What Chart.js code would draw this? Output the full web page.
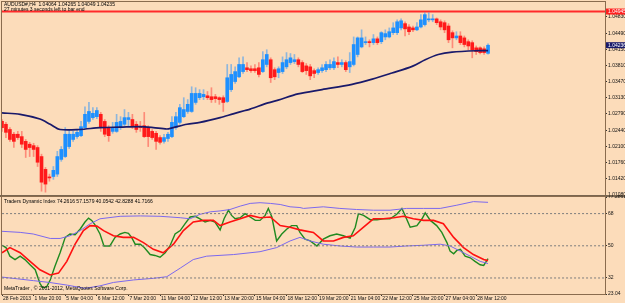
<!DOCTYPE html>
<html>
<head>
<meta charset="utf-8">
<script src="https://cdn.jsdelivr.net/npm/chart.js@4.4.0/dist/chart.umd.min.js"></script>
<style>
  html, body { margin: 0; padding: 0; background: #fcdcba; }
  #wrap { position: relative; width: 625px; height: 303px; overflow: hidden; background: #fcdcba; }
  #priceCanvas { position: absolute; left: 0; top: 0; }
  #tdiCanvas { position: absolute; left: 0; top: 195px; }
</style>
</head>
<body>
<div id="wrap">
  <canvas id="priceCanvas" width="625" height="197" style="width:625px;height:197px"></canvas>
  <canvas id="tdiCanvas" width="625" height="108" style="width:625px;height:108px"></canvas>
</div>
<script>
// AUDUSD H4 candles, one entry per bar (bar 0 = 28 Feb 2013 12:00)
const openP = [
  1.0263,1.0257,1.0246,1.0236,1.0236,1.0231,1.0221,1.0215,1.0212,1.0208,
  1.0189,1.0162,1.0146,1.0147,1.0152,1.0183,1.0189,1.0210,1.0225,1.0231,
  1.0233,1.0250,1.0263,1.0271,1.0273,1.0278,1.0263,1.0250,1.0242,1.0242,
  1.0250,1.0257,1.0267,1.0267,1.0257,1.0252,1.0254,1.0250,1.0242,1.0238,
  1.0229,1.0221,1.0227,1.0231,1.0250,1.0261,1.0273,1.0284,1.0284,1.0303,
  1.0313,1.0315,1.0317,1.0315,1.0315,1.0313,1.0313,1.0305,1.0330,1.0347,
  1.0357,1.0368,1.0376,1.0374,1.0374,1.0376,1.0368,1.0383,1.0393,1.0372,
  1.0366,1.0368,1.0378,1.0387,1.0389,1.0393,1.0387,1.0380,1.0378,1.0370,
  1.0366,1.0370,1.0372,1.0376,1.0376,1.0387,1.0383,1.0387,1.0378,1.0383,
  1.0404,1.0420,1.0429,1.0431,1.0429,1.0437,1.0431,1.0441,1.0441,1.0450,
  1.0450,1.0460,1.0469,1.0462,1.0460,1.0456,1.0462,1.0467,1.0477,1.0477,
  1.0479,1.0473,1.0471,1.0464,1.0450,1.0439,1.0443,1.0439,1.0431,1.0429,
  1.0418,1.0418,1.0416,1.04064
];
const highP = [
  1.0267,1.0261,1.0250,1.0240,1.0242,1.0242,1.0225,1.0219,1.0217,1.0212,
  1.0194,1.0166,1.0152,1.0168,1.0200,1.0210,1.0250,1.0246,1.0242,1.0244,
  1.0263,1.0294,1.0303,1.0292,1.0292,1.0282,1.0267,1.0254,1.0261,1.0278,
  1.0273,1.0288,1.0282,1.0278,1.0263,1.0263,1.0282,1.0254,1.0246,1.0242,
  1.0233,1.0236,1.0240,1.0273,1.0282,1.0299,1.0313,1.0309,1.0336,1.0334,
  1.0330,1.0330,1.0326,1.0334,1.0320,1.0315,1.0317,1.0383,1.0383,1.0378,
  1.0397,1.0399,1.0387,1.0380,1.0383,1.0387,1.0410,1.0414,1.0397,1.0376,
  1.0378,1.0399,1.0408,1.0406,1.0404,1.0397,1.0391,1.0385,1.0383,1.0374,
  1.0376,1.0383,1.0389,1.0393,1.0397,1.0399,1.0393,1.0391,1.0408,1.0441,
  1.0441,1.0456,1.0441,1.0435,1.0446,1.0441,1.0452,1.0456,1.0460,1.0471,
  1.0477,1.0479,1.0473,1.0467,1.0464,1.0471,1.0488,1.0492,1.0492,1.0488,
  1.0481,1.0477,1.0475,1.0469,1.0454,1.0452,1.0452,1.0443,1.0435,1.0433,
  1.0422,1.0420,1.0420,1.04265
];
const lowP = [
  1.0242,1.0229,1.0221,1.0208,1.0225,1.0208,1.0187,1.0189,1.0189,1.0168,
  1.0116,1.0114,1.0137,1.0141,1.0147,1.0179,1.0187,1.0206,1.0221,1.0227,
  1.0231,1.0248,1.0259,1.0267,1.0269,1.0242,1.0231,1.0221,1.0238,1.0240,
  1.0246,1.0254,1.0252,1.0248,1.0240,1.0242,1.0229,1.0210,1.0225,1.0204,
  1.0215,1.0217,1.0221,1.0229,1.0246,1.0257,1.0271,1.0280,1.0282,1.0299,
  1.0309,1.0309,1.0309,1.0303,1.0303,1.0299,1.0284,1.0303,1.0326,1.0343,
  1.0355,1.0364,1.0368,1.0366,1.0366,1.0357,1.0366,1.0378,1.0345,1.0351,
  1.0355,1.0364,1.0374,1.0383,1.0385,1.0378,1.0366,1.0362,1.0351,1.0355,
  1.0362,1.0366,1.0368,1.0372,1.0372,1.0376,1.0378,1.0368,1.0366,1.0380,
  1.0399,1.0418,1.0425,1.0420,1.0425,1.0425,1.0427,1.0435,1.0439,1.0446,
  1.0446,1.0456,1.0443,1.0446,1.0452,1.0454,1.0460,1.0464,1.0473,1.0473,
  1.0467,1.0456,1.0450,1.0429,1.0418,1.0435,1.0425,1.0420,1.0414,1.0397,
  1.0404,1.0405,1.0404,1.04049
];
const closeP = [
  1.0250,1.0240,1.0225,1.0221,1.0229,1.0215,1.0204,1.0208,1.0204,1.0177,
  1.0135,1.0131,1.0144,1.0160,1.0189,1.0204,1.0236,1.0236,1.0236,1.0240,
  1.0252,1.0278,1.0284,1.0280,1.0286,1.0250,1.0236,1.0233,1.0250,1.0261,
  1.0263,1.0271,1.0271,1.0252,1.0246,1.0250,1.0231,1.0231,1.0229,1.0221,
  1.0219,1.0229,1.0236,1.0261,1.0273,1.0292,1.0288,1.0299,1.0322,1.0322,
  1.0322,1.0320,1.0313,1.0309,1.0311,1.0309,1.0303,1.0355,1.0362,1.0368,
  1.0383,1.0383,1.0372,1.0370,1.0370,1.0362,1.0393,1.0404,1.0355,1.0357,
  1.0374,1.0387,1.0393,1.0397,1.0393,1.0383,1.0368,1.0370,1.0359,1.0364,
  1.0372,1.0376,1.0383,1.0383,1.0389,1.0383,1.0387,1.0372,1.0389,1.0425,
  1.0439,1.0439,1.0431,1.0429,1.0437,1.0429,1.0450,1.0448,1.0452,1.0460,
  1.0473,1.0475,1.0458,1.0452,1.0456,1.0462,1.0477,1.0488,1.0479,1.0479,
  1.0471,1.0462,1.0456,1.0435,1.0439,1.0443,1.0429,1.0425,1.0422,1.0414,
  1.0410,1.0408,1.0408,1.04235
];

// moving average, read at bar positions
const maBar = [0,4.6,9.6,12.2,14.7,19.7,24.8,29.9,34.9,38.3,41.7,43.3,46.8,50.1,55.2,58.5,61.5,62.8,67.3,69.9,74.9,81,88.6,93.7,98.7,103.8,107.1,110.4,113.9,120.5,123];
const maVal = [1.0281,1.0278,1.0268,1.0257,1.0246,1.0246,1.0250,1.0251,1.0252,1.0250,1.0247,1.0250,1.0257,1.0261,1.0271,1.0279,1.0286,1.0289,1.0302,1.0308,1.0321,1.0330,1.0341,1.0352,1.0365,1.0379,1.0393,1.0404,1.0409,1.0412,1.0412];

const alertLevel = 1.04945;
const bidLevel = 1.04236;
const priceTicks = [1.04830,1.04490,1.04150,1.03810,1.03470,1.03130,1.02790,1.02440,1.02100,1.01760,1.01420,1.01080];
const priceMin = 1.01080, priceMax = 1.05146;

const headerLines = ['AUDUSD#,H4  1.04064 1.04265 1.04049 1.04235', '27 minutes 3 seconds left to bar end'];
const timeLabels = ['28 Feb 2013','1 Mar 20:00','5 Mar 04:00','6 Mar 12:00','7 Mar 20:00','11 Mar 04:00','12 Mar 12:00','13 Mar 20:00','15 Mar 04:00','18 Mar 12:00','19 Mar 20:00','21 Mar 04:00','22 Mar 12:00','25 Mar 20:00','27 Mar 04:00','28 Mar 12:00'];
const barsPerLabel = 8;

// Traders Dynamic Index, [bar, value]
const rsiLine = [[0,50.3],[1,49.0],[2,44.2],[3.3,42.3],[4.6,44.2],[5.8,42.3],[7.1,39.4],[8.4,36.6],[9.6,29.0],[10.3,26.5],[11.3,27.0],[12.2,30.9],[13.4,38.5],[14.7,46.1],[16,54.7],[17.2,56.6],[18.5,56.2],[19.8,59.4],[21,63.3],[21.9,65.5],[22.7,64.2],[23.5,61.9],[24.8,56.6],[25.8,49.9],[27.3,49.9],[28.6,54.7],[29.9,56.6],[31.1,57.5],[32,57.0],[32.8,54.7],[33.7,50.9],[35,50.9],[36,49.0],[37.5,45.1],[38.7,44.6],[40,43.6],[41.3,46.1],[42.5,49.9],[43.8,56.6],[45.1,58.5],[46.3,62.3],[47.6,66.1],[48.9,66.5],[50.1,65.1],[51.4,63.3],[52.7,64.2],[53.9,63.3],[55.2,58.9],[56.2,65.1],[57.3,69.9],[58.1,67.0],[59,65.1],[60.3,65.7],[61.5,68.0],[62.8,66.1],[64.1,64.2],[65.3,64.2],[66.6,67.0],[67.4,70.9],[68.3,66.1],[69.5,52.7],[70.8,56.6],[72.1,59.4],[73.3,61.3],[74.6,61.3],[75.4,57.5],[76.7,53.7],[78,52.7],[79.7,49.9],[81.3,53.7],[83,55.6],[84.7,56.6],[86.4,55.6],[88.1,54.3],[89.4,60.4],[90.2,68.0],[91.5,67.0],[93.2,64.6],[94.9,64.6],[96.5,65.1],[98.2,65.1],[99.9,67.6],[101.2,70.9],[102,67.0],[103.3,60.4],[105,61.3],[106.3,65.1],[107.1,68.4],[108.4,64.2],[110,61.3],[111.3,57.5],[112.6,51.8],[113.4,47.0],[114.3,45.5],[115.1,47.4],[116,48.0],[117.2,44.2],[118.5,43.3],[119.7,41.3],[121,39.4],[121.9,39.0],[123,42.8]];
const signalLine = [[0,46.1],[2,49.0],[4.6,46.1],[7.1,41.3],[9.6,36.6],[12.2,33.7],[14.3,34.7],[16.4,41.3],[18.5,50.9],[20.6,58.5],[22.3,61.3],[24,61.0],[25.7,58.5],[28.2,55.6],[30.7,54.7],[33.3,54.7],[35.8,51.8],[38.3,48.0],[40.8,46.1],[43.4,50.9],[45.9,58.5],[48.4,63.3],[51,64.2],[53.5,64.2],[55.2,61.3],[57.7,63.3],[60.3,65.1],[62.8,67.0],[65.3,65.7],[67.9,66.1],[70.4,61.3],[72.9,60.4],[75.4,58.9],[76.3,58.5],[78.8,57.5],[81.3,52.7],[83.9,52.7],[86.4,54.7],[88.9,55.6],[91.5,60.4],[94,65.1],[96.5,65.1],[99.1,65.7],[101.6,66.5],[104.1,65.1],[106.7,64.2],[109.2,64.2],[111.7,62.3],[114.3,54.7],[116.8,49.0],[119.3,45.1],[121.9,42.3],[123,41.7]];
const upperBand = [[0,58.1],[4.6,57.5],[7.9,56.6],[12.2,54.1],[14.7,54.1],[17.2,55.6],[19.8,58.5],[22.3,62.3],[24.8,65.1],[29.9,66.5],[35,66.7],[40,66.5],[45.1,65.7],[47.6,65.1],[50.1,67.6],[52.7,69.0],[55.2,69.5],[57.7,70.3],[60.3,72.2],[62.8,73.7],[65.3,74.1],[67.9,73.7],[70.4,73.1],[72.9,71.8],[75.4,71.4],[76.3,70.9],[81.3,71.8],[85.5,70.9],[89.7,70.3],[94,69.9],[98.2,69.9],[102.4,70.9],[106.7,70.9],[110.9,70.9],[115.1,72.7],[119.3,74.7],[123,74.3]];
const lowerBand = [[0,32.5],[4,31.5],[8,30.5],[12,29.5],[16.5,28.0],[21,26.2],[24.8,27.6],[28.2,29.5],[33.3,30.9],[38.3,31.8],[41.7,32.7],[45.1,37.5],[48.4,42.3],[51.8,44.2],[58.6,45.1],[65.3,46.7],[69.5,49.0],[72.9,52.7],[75.4,54.7],[78,52.7],[81.3,50.9],[85.5,49.9],[89.7,49.3],[94,49.3],[98.2,49.3],[102.4,49.9],[106.7,50.3],[110.9,50.9],[113.4,49.9],[116,47.0],[118.5,44.2],[121,41.3],[123,40.05]];
const tdiTicks = [77.2861,68,50,32,23.04];
const tdiLevels = [68,50,32];
const tdiTitle = 'Traders Dynamic Index 74.2616 57.1579 40.0542 42.8288 41.7166';
const copyright = 'MetaTrader , \u00a9 2001-2012, MetaQuotes Software Corp.';

const xMin = 0, xMax = 152.6;
const FONT = '"Liberation Sans", Arial, sans-serif';
const frameColor = '#8a6c4e';
const bullColor = '#1e90ff', bearColor = '#ff1a1a';

const bars = openP.map((o, i) => i);
const isBull = bars.map(i => closeP[i] >= openP[i]);

const framePlugin = {
  id: 'frame',
  afterDraw(chart, args, opts) {
    const a = chart.chartArea, ctx = chart.ctx;
    ctx.save();
    ctx.strokeStyle = frameColor;
    ctx.lineWidth = 1;
    ctx.strokeRect(a.left - 0.5, a.top - 0.5, a.right - a.left + 1, a.bottom - a.top + 1);
    if (opts.thickBottom) {
      ctx.fillStyle = '#7a6650';
      ctx.fillRect(0, a.bottom, chart.width, 2);
    }
    ctx.font = '5px ' + FONT;
    ctx.fillStyle = '#000';
    ctx.textBaseline = 'middle';
    (opts.texts || []).forEach(t => ctx.fillText(t.text, t.x, t.y));
    (opts.tags || []).forEach(t => {
      const py = chart.scales.y.getPixelForValue(t.value);
      ctx.fillStyle = t.color;
      ctx.fillRect(a.right + 1, py - 3, 22, 6);
      ctx.fillStyle = '#fff';
      ctx.fillText(t.value.toFixed(5), a.right + 3, py + 0.5);
    });
    ctx.restore();
  }
};

function rightAxis(min, max, ticks, fmt) {
  return {
    position: 'right', min: min, max: max,
    afterBuildTicks: s => { s.ticks = ticks.map(v => ({ value: v })); },
    afterFit: s => { s.width = 20; s.paddingTop = 0; s.paddingBottom = 0; },
    grid: { drawOnChartArea: false, drawTicks: true, tickLength: 2, tickColor: '#333' },
    border: { display: true, color: frameColor },
    ticks: { padding: 1, color: '#111', font: { family: FONT, size: 5, lineHeight: 1 }, callback: fmt }
  };
}

new Chart(document.getElementById('priceCanvas'), {
  type: 'bar',
  data: {
    datasets: [
      {
        type: 'line', order: 0,
        data: maBar.map((b, k) => ({ x: b, y: maVal[k] })),
        borderColor: '#19196a', borderWidth: 1.7, pointRadius: 0, tension: 0.3
      },
      {
        order: 1, grouped: false, barThickness: 3, minBarLength: 1,
        data: bars.map(i => ({ x: i, y: [openP[i], closeP[i]] })),
        backgroundColor: bars.map(i => isBull[i] ? bullColor : bearColor),
        borderWidth: 0
      },
      {
        order: 2, grouped: false, barThickness: 1,
        data: bars.map(i => ({ x: i, y: [lowP[i], highP[i]] })),
        backgroundColor: bars.map(i => isBull[i] ? 'rgba(30,144,255,0.5)' : 'rgba(255,40,40,0.45)'),
        borderWidth: 0
      },
      {
        type: 'line', order: 3,
        data: [{ x: xMin - 1, y: alertLevel }, { x: xMax + 1, y: alertLevel }],
        borderColor: '#ff2a2a', borderWidth: 2, pointRadius: 0
      }
    ]
  },
  options: {
    responsive: false, animation: false,
    layout: { padding: { left: 2, top: 2, right: 0, bottom: 2 } },
    plugins: {
      legend: { display: false }, tooltip: { enabled: false },
      frame: {
        thickBottom: true,
        texts: [{ text: headerLines[0], x: 4, y: 5 }, { text: headerLines[1], x: 4, y: 9.5 }],
        tags: [{ value: alertLevel, color: '#ff2020' }, { value: bidLevel, color: '#1a1a6a' }]
      }
    },
    scales: {
      x: { type: 'linear', display: false, min: xMin, max: xMax, offset: false },
      y: rightAxis(priceMin, priceMax, priceTicks, v => v.toFixed(5))
    }
  },
  plugins: [framePlugin]
});

const pairs = arr => arr.map(p => ({ x: p[0], y: p[1] }));

new Chart(document.getElementById('tdiCanvas'), {
  type: 'line',
  data: {
    datasets: [
      ...tdiLevels.map(l => ({
        data: [{ x: xMin - 1, y: l }, { x: xMax + 1, y: l }],
        borderColor: '#7d7d7d', borderWidth: 1, borderDash: [2, 2], pointRadius: 0
      })),
      { data: pairs(upperBand), borderColor: '#7b68ee', borderWidth: 1, pointRadius: 0 },
      { data: pairs(lowerBand), borderColor: '#7b68ee', borderWidth: 1, pointRadius: 0 },
      { data: pairs(signalLine), borderColor: '#ff1010', borderWidth: 1.6, pointRadius: 0 },
      { data: pairs(rsiLine), borderColor: '#1f8a1f', borderWidth: 1.4, pointRadius: 0 }
    ]
  },
  options: {
    responsive: false, animation: false,
    layout: { padding: { left: 2, top: 2, right: 0, bottom: 0 } },
    plugins: {
      legend: { display: false }, tooltip: { enabled: false },
      frame: {
        texts: [{ text: tdiTitle, x: 4, y: 7 }, { text: copyright, x: 4, y: 94 }]
      }
    },
    scales: {
      x: {
        type: 'linear', min: xMin, max: xMax,
        afterBuildTicks: s => { s.ticks = timeLabels.map((t, k) => ({ value: k * barsPerLabel })); },
        afterFit: s => { s.height = 9; s.paddingLeft = 0; s.paddingRight = 0; },
        grid: { drawOnChartArea: false, drawTicks: true, tickLength: 2, tickColor: '#333' },
        border: { display: true, color: frameColor },
        ticks: {
          autoSkip: false, maxRotation: 0, minRotation: 0, align: 'start', labelOffset: 1, padding: 0,
          color: '#111', font: { family: FONT, size: 5, lineHeight: 1 },
          callback: (v, k) => timeLabels[k]
        }
      },
      y: rightAxis(23.04, 77.2861, tdiTicks, v => String(v))
    }
  },
  plugins: [framePlugin]
});
</script>
</body>
</html>
